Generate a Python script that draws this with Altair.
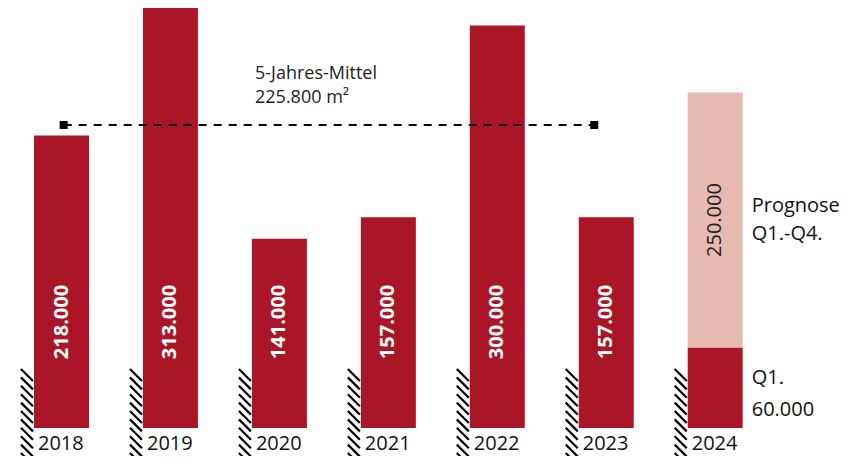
import altair as alt
import pandas as pd

# ---- data ----
years = ["2018", "2019", "2020", "2021", "2022", "2023", "2024"]
values = [218000, 313000, 141000, 157000, 300000, 157000, 60000]   # 2024 = Q1 actual
forecast_total = 250000          # Prognose Q1.-Q4. 2024
five_year_avg = 225800
avg_lines = ["5-Jahres-Mittel", "225.800 m²"]
prognose_lines = ["Prognose", "Q1.-Q4."]
q1_lines = ["Q1.", "60.000"]

RED = "#AA1628"
PALE = "#E6BAB0"
FONT = "Open Sans"

# ---- layout helpers ----
W, H = 845, 448
PX_X = 108.95                      # pixels per bar step
X0 = -53.5 / PX_X
BASE_PX = 420                      # chart-y of the zero line
PX_PER_VAL = 420 / 313000
HALF = 27.5 / PX_X                 # half bar width in x units

def v_from_px(px):
    return (BASE_PX - px) / PX_PER_VAL

def de(v):
    return f"{v:,}".replace(",", ".")

xs = alt.Scale(domain=[X0, X0 + W / PX_X], nice=False, zero=False)
ys = alt.Scale(domain=[v_from_px(H), v_from_px(0)], nice=False, zero=False)

def X(f):
    return alt.X(f, type="quantitative", scale=xs, axis=None)

def Y(f):
    return alt.Y(f, type="quantitative", scale=ys, axis=None)

# bars
rows = []
for i, (yr, v) in enumerate(zip(years, values)):
    rows.append(dict(x0=i - HALF, x1=i + HALF, y0=0, y1=v, kind="ist"))
rows.append(dict(x0=6 - HALF, x1=6 + HALF, y0=values[-1], y1=forecast_total, kind="prognose"))
bar_df = pd.DataFrame(rows)

bars = alt.Chart(bar_df).mark_rect().encode(
    x=X("x0"), x2="x1", y=Y("y0"), y2="y1",
    color=alt.Color("kind:N", scale=alt.Scale(domain=["ist", "prognose"], range=[RED, PALE]), legend=None),
)

# hatching left of each bar (ground symbol)
h_rows = []
for i in range(len(years)):
    left = i - HALF - 13 / PX_X
    right = i - HALF - 1 / PX_X
    for k in range(11):
        top = 361 + k * 8.4
        h_rows.append(dict(hx0=left, hx1=right, hy0=v_from_px(top), hy1=v_from_px(top + 12)))
hatch = alt.Chart(pd.DataFrame(h_rows)).mark_rule(color="black", strokeWidth=2.2).encode(
    x=X("hx0"), x2="hx1", y=Y("hy0"), y2="hy1"
)

# year labels
year_df = pd.DataFrame(dict(x=[i - HALF + 4 / PX_X for i in range(len(years))], year=years))
year_text = alt.Chart(year_df).mark_text(
    align="left", baseline="middle", fontSize=20, font=FONT, color="#111"
).encode(x=X("x"), y=alt.value(436), text="year:N")

# value labels (white, rotated)
val_df = pd.DataFrame(dict(x=list(range(6)), label=[de(v) for v in values[:6]]))
val_text = alt.Chart(val_df).mark_text(
    angle=270, align="center", baseline="middle", fontSize=20, fontWeight="bold",
    font=FONT, color="white"
).encode(x=X("x"), y=alt.value(314), text="label:N")

pale_mid = (values[-1] + forecast_total) / 2
fc_df = pd.DataFrame(dict(x=[6], y=[pale_mid], label=[de(forecast_total)]))
fc_text = alt.Chart(fc_df).mark_text(
    angle=270, align="center", baseline="middle", fontSize=20, font=FONT, color="#222"
).encode(x=X("x"), y=Y("y"), text="label:N")

# 5-year average line
avg_df = pd.DataFrame(dict(ax0=[0.02], ax1=[4.89], ay=[five_year_avg]))
avg_rule = alt.Chart(avg_df).mark_rule(color="black", strokeWidth=2, strokeDash=[8, 7]).encode(
    x=X("ax0"), x2="ax1", y=Y("ay")
)
end_df = pd.DataFrame(dict(ex=[0.02, 4.89], ey=[five_year_avg, five_year_avg]))
avg_ends = alt.Chart(end_df).mark_square(size=64, color="black", opacity=1).encode(
    x=X("ex"), y=Y("ey")
)
avg_txt_df = pd.DataFrame(dict(
    tx=[(247 - 53.5) / PX_X] * 2,
    ty=[five_year_avg + 51 / PX_PER_VAL, five_year_avg + 27 / PX_PER_VAL],
    t=avg_lines,
))
avg_text = alt.Chart(avg_txt_df).mark_text(
    align="left", baseline="middle", fontSize=18, font=FONT, color="#222"
).encode(x=X("tx"), y=Y("ty"), text="t:N")

# 2024 side annotations
side_x = 6 + HALF + 9 / PX_X
prog_df = pd.DataFrame(dict(
    sx=[side_x] * 2,
    sy=[pale_mid + 14 / PX_PER_VAL, pale_mid - 14 / PX_PER_VAL],
    t=prognose_lines,
))
prog_text = alt.Chart(prog_df).mark_text(
    align="left", baseline="middle", fontSize=20, font=FONT, color="#111"
).encode(x=X("sx"), y=Y("sy"), text="t:N")

q1_df = pd.DataFrame(dict(sx=[side_x] * 2, sy=[v_from_px(370), v_from_px(402)], t=q1_lines))
q1_text = alt.Chart(q1_df).mark_text(
    align="left", baseline="middle", fontSize=20, font=FONT, color="#111"
).encode(x=X("sx"), y=Y("sy"), text="t:N")

chart = alt.layer(
    bars, hatch, year_text, val_text, fc_text, avg_rule, avg_ends, avg_text, prog_text, q1_text
).properties(
    width=W, height=H, padding=0, autosize=alt.AutoSizeParams(type="none")
).configure_view(stroke=None)

chart.save("out.html", embed_options={"renderer": "svg", "actions": False})
